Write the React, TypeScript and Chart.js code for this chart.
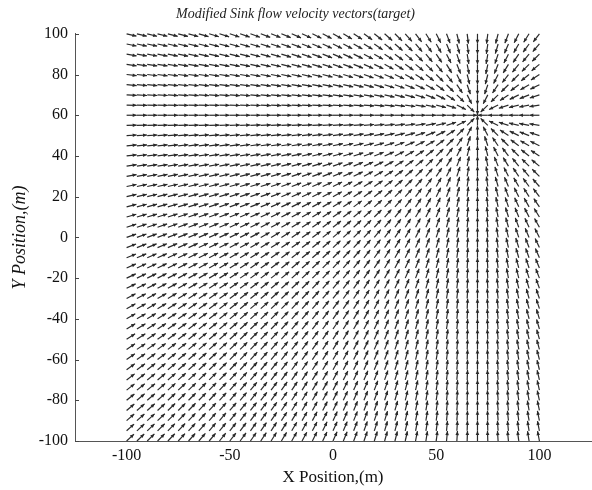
import React, { useEffect, useRef } from "react";
import { Chart, registerables } from "chart.js";

Chart.register(...registerables);

// Grid positions of the vectors (m)
const xGrid = [
  -100, -95, -90, -85, -80, -75, -70, -65, -60, -55, -50, -45, -40, -35, -30, -25, -20, -15, -10, -5,
  0, 5, 10, 15, 20, 25, 30, 35, 40, 45, 50, 55, 60, 65, 70, 75, 80, 85, 90, 95, 100,
];
const yGrid = [
  -100, -95, -90, -85, -80, -75, -70, -65, -60, -55, -50, -45, -40, -35, -30, -25, -20, -15, -10, -5,
  0, 5, 10, 15, 20, 25, 30, 35, 40, 45, 50, 55, 60, 65, 70, 75, 80, 85, 90, 95, 100,
];
// Sink (target) location
const sinkX = 70;
const sinkY = 60;
// Drawn arrow length in data units (normalised "modified" sink)
const arrowLength = 4.9;

const xTicks = [-100, -50, 0, 50, 100];
const yTicks = [-100, -80, -60, -40, -20, 0, 20, 40, 60, 80, 100];

const titleText = "Modified Sink flow velocity vectors(target)";
const xTitleText = "X Position,(m)";
const yTitleText = "Y Position,(m)";

const FONT = '"Liberation Serif", "Times New Roman", serif';

type Vec = { x: number; y: number; u: number; v: number };

const vectors: Vec[] = [];
for (const y of yGrid) {
  for (const x of xGrid) {
    const dx = sinkX - x;
    const dy = sinkY - y;
    const r = Math.hypot(dx, dy);
    vectors.push({ x, y, u: r > 0 ? dx / r : 0, v: r > 0 ? dy / r : 0 });
  }
}

const quiverPlugin = {
  id: "quiver",
  afterDatasetsDraw(chart: any) {
    const { ctx, scales } = chart;
    const xs = scales.x;
    const ys = scales.y;
    ctx.save();
    ctx.strokeStyle = "#2a2a2a";
    ctx.fillStyle = "#2a2a2a";
    ctx.lineWidth = 1.2;
    for (const p of vectors) {
      if (p.u === 0 && p.v === 0) continue;
      const x0 = xs.getPixelForValue(p.x);
      const y0 = ys.getPixelForValue(p.y);
      const x1 = xs.getPixelForValue(p.x + arrowLength * p.u);
      const y1 = ys.getPixelForValue(p.y + arrowLength * p.v);
      ctx.beginPath();
      ctx.moveTo(x0, y0);
      ctx.lineTo(x1, y1);
      ctx.stroke();
      const ang = Math.atan2(y1 - y0, x1 - x0);
      const hl = 4;
      const hw = 1.8;
      const bx = x1 - hl * Math.cos(ang);
      const by = y1 - hl * Math.sin(ang);
      ctx.beginPath();
      ctx.moveTo(x1, y1);
      ctx.lineTo(bx - hw * Math.sin(ang), by + hw * Math.cos(ang));
      ctx.lineTo(bx + hw * Math.sin(ang), by - hw * Math.cos(ang));
      ctx.closePath();
      ctx.fill();
    }
    // inward y tick marks
    ctx.strokeStyle = "#444";
    ctx.lineWidth = 1;
    const left = chart.chartArea.left;
    for (const t of yTicks) {
      const py = Math.round(ys.getPixelForValue(t)) + 0.5;
      ctx.beginPath();
      ctx.moveTo(left, py);
      ctx.lineTo(left + 4, py);
      ctx.stroke();
    }
    ctx.restore();
  },
};

export default function App() {
  const canvasRef = useRef<HTMLCanvasElement | null>(null);

  useEffect(() => {
    document.body.style.margin = "0";
    const canvas = canvasRef.current;
    if (!canvas) return;
    Chart.defaults.font.family = FONT;
    const chart = new Chart(canvas, {
      type: "scatter",
      data: {
        datasets: [
          {
            label: "grid",
            data: vectors.map((p) => ({ x: p.x, y: p.y })),
            pointRadius: 0,
            pointHoverRadius: 0,
          },
        ],
      },
      options: {
        animation: false,
        responsive: false,
        maintainAspectRatio: false,
        layout: { padding: { left: 0, right: 1, top: 0, bottom: 0 } },
        plugins: {
          legend: { display: false },
          tooltip: { enabled: false },
          title: {
            display: true,
            text: titleText,
            color: "#222",
            font: { family: FONT, size: 14, style: "italic", weight: "normal", lineHeight: 1.2 },
            padding: { top: 6, bottom: 11 },
          },
        },
        scales: {
          x: {
            type: "linear",
            min: -125,
            max: 125,
            afterBuildTicks: (s: any) => {
              s.ticks = xTicks.map((v) => ({ value: v }));
            },
            afterFit: (s: any) => {
              s.height = 49;
            },
            grid: { display: false, drawTicks: false },
            border: { display: true, color: "#555", width: 1 },
            ticks: {
              color: "#111",
              padding: 5,
              font: { family: FONT, size: 16 },
              maxRotation: 0,
              autoSkip: false,
            },
            title: {
              display: true,
              text: xTitleText,
              color: "#111",
              font: { family: FONT, size: 17, lineHeight: 1.2 },
              padding: { top: 0, bottom: 2 },
            },
          },
          y: {
            type: "linear",
            min: -100,
            max: 100,
            afterBuildTicks: (s: any) => {
              s.ticks = yTicks.map((v) => ({ value: v }));
            },
            afterFit: (s: any) => {
              s.width = 75;
            },
            grid: { display: false, drawTicks: false },
            border: { display: true, color: "#555", width: 1 },
            ticks: {
              color: "#111",
              padding: 7,
              font: { family: FONT, size: 16 },
              autoSkip: false,
            },
            title: {
              display: true,
              text: yTitleText,
              color: "#111",
              font: { family: FONT, size: 18, style: "italic", lineHeight: 1.2 },
              padding: { top: 9, bottom: 0 },
            },
          },
        },
      },
      plugins: [quiverPlugin],
    });
    return () => chart.destroy();
  }, []);

  return (
    <div style={{ width: 592, height: 490, background: "#fff" }}>
      <canvas ref={canvasRef} width={592} height={490} style={{ display: "block" }} />
    </div>
  );
}
